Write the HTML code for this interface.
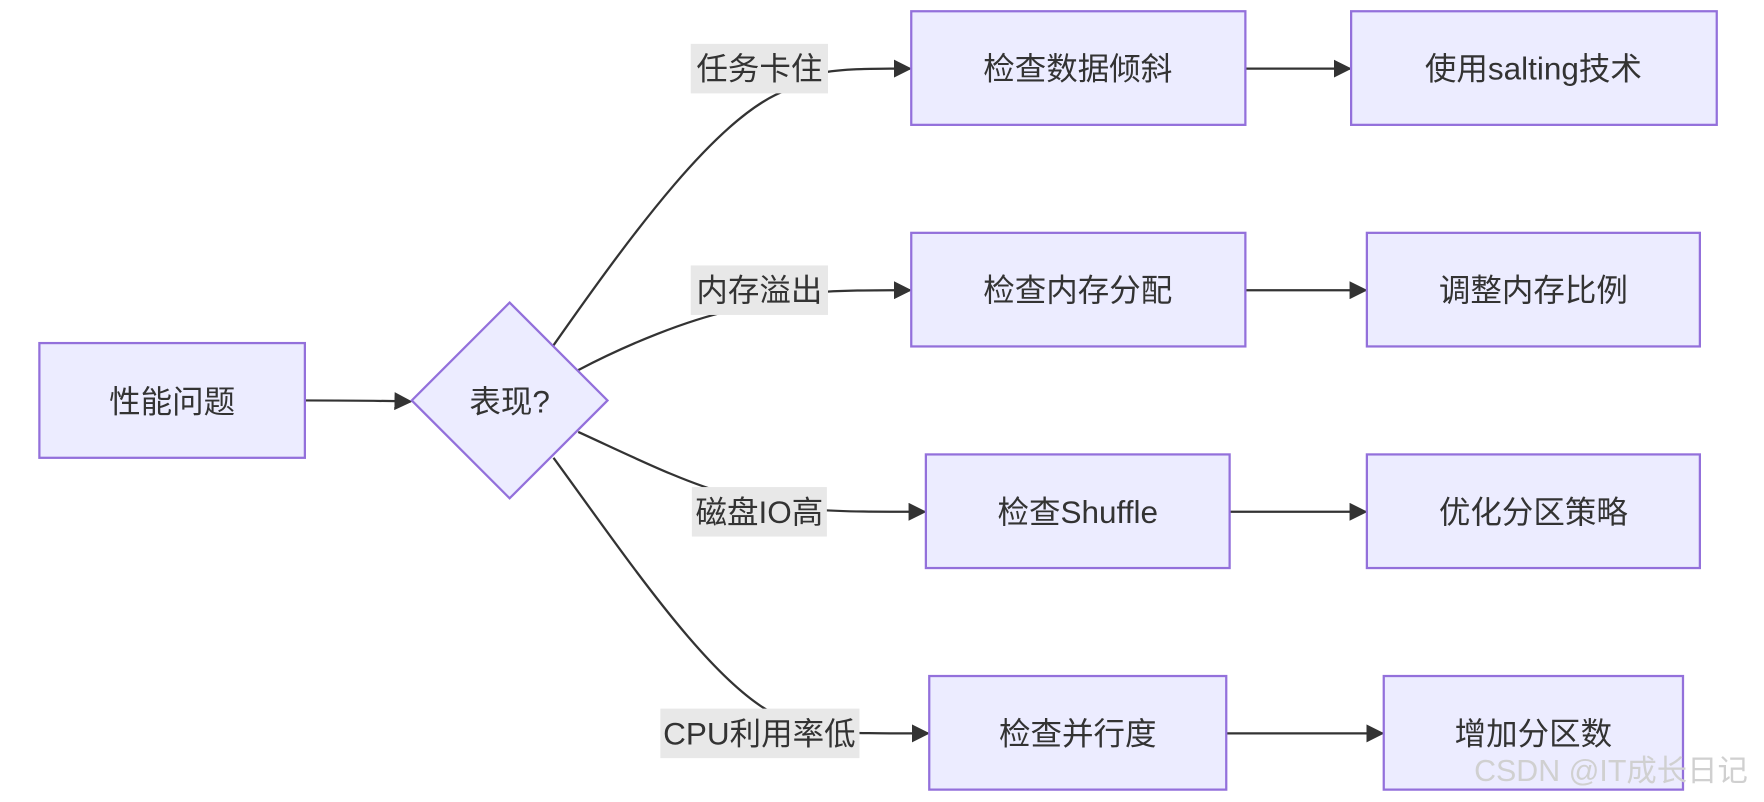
<!DOCTYPE html>
<html><head><meta charset="utf-8"><style>
html,body{margin:0;padding:0;background:#fff;}
svg{display:block}
text{font-family:"Liberation Sans","Noto Sans CJK SC",sans-serif;fill:#333;}
</style></head><body>
<svg width="1764" height="802" viewBox="0 0 1568 713" preserveAspectRatio="none" xmlns="http://www.w3.org/2000/svg">
<defs><marker id="a" viewBox="0 0 10 10" refX="9" refY="5" markerWidth="8" markerHeight="8" orient="auto"><path d="M0,0L10,5L0,10z" fill="#333"/></marker></defs>
<g fill="none" stroke="#333" stroke-width="2">
<path d="M271,356 C310,356 330,356 365,357" marker-end="url(#a)"/>
<path d="M492,307 C560,210 640,100 700,80 C720,62 740,61 809,61" marker-end="url(#a)"/>
<path d="M514,329 C560,305 610,285 650,276 C700,258 740,258 809,258" marker-end="url(#a)"/>
<path d="M514,384 C560,405 610,430 650,440 C700,455 740,455 822,455" marker-end="url(#a)"/>
<path d="M492,407 C560,500 640,620 700,640 C720,652 740,652 825,652" marker-end="url(#a)"/>
<path d="M1107,61 L1200,61" marker-end="url(#a)"/>
<path d="M1107,258 L1214,258" marker-end="url(#a)"/>
<path d="M1093,455 L1214,455" marker-end="url(#a)"/>
<path d="M1090,652 L1229,652" marker-end="url(#a)"/>
</g>
<g fill="#ECECFF" stroke="#9370DB" stroke-width="2">
<rect x="35" y="305" width="236" height="102"/>
<path d="M453,269 L540,356 L453,443 L366,356 Z"/>
<rect x="810" y="10" width="297" height="101"/>
<rect x="810" y="207" width="297" height="101"/>
<rect x="823" y="404" width="270" height="101"/>
<rect x="826" y="601" width="264" height="101"/>
<rect x="1201" y="10" width="325" height="101"/>
<rect x="1215" y="207" width="296" height="101"/>
<rect x="1215" y="404" width="296" height="101"/>
<rect x="1230" y="601" width="266" height="101"/>
</g>
<g fill="#e8e8e8">
<rect x="614" y="39" width="122" height="44"/>
<rect x="614" y="236" width="122" height="44"/>
<rect x="615" y="433" width="120" height="44"/>
<rect x="587" y="630" width="177" height="44"/>
</g>
<g font-size="28" text-anchor="middle" dominant-baseline="central">
<text x="153" y="357">性能问题</text>
<text x="453" y="357">表现?</text>
<text x="675" y="61">任务卡住</text>
<text x="675" y="258">内存溢出</text>
<text x="675" y="455">磁盘IO高</text>
<text x="675" y="652">CPU利用率低</text>
<text x="958" y="61">检查数据倾斜</text>
<text x="958" y="258">检查内存分配</text>
<text x="958" y="455">检查Shuffle</text>
<text x="958" y="652">检查并行度</text>
<text x="1363" y="61">使用salting技术</text>
<text x="1363" y="258">调整内存比例</text>
<text x="1363" y="455">优化分区策略</text>
<text x="1363" y="652">增加分区数</text>
<text x="1432" y="686" font-size="27" style="fill:#d0d0d0">CSDN @IT成长日记</text>
</g>
</svg>
</body></html>
